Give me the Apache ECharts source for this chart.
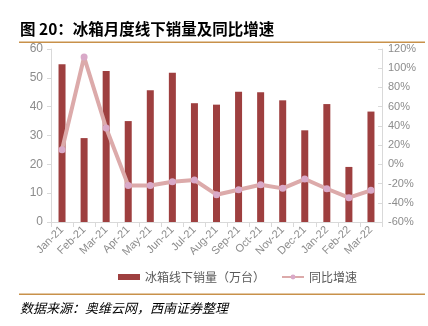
<!DOCTYPE html>
<html><head><meta charset="utf-8">
<script src="https://cdn.jsdelivr.net/npm/echarts@6/dist/echarts.min.js"></script>
<style>html,body{margin:0;padding:0;background:#fff;}#c{width:428px;height:326px;}</style>
</head><body><div id="c"></div>
<script>
const categories = ['Jan-21','Feb-21','Mar-21','Apr-21','May-21','Jun-21','Jul-21','Aug-21','Sep-21','Oct-21','Nov-21','Dec-21','Jan-22','Feb-22','Mar-22'];
const salesVolume = [54.7, 29.1, 52.4, 35.0, 45.7, 51.8, 41.2, 40.7, 45.2, 45.0, 42.2, 31.8, 40.9, 19.1, 38.3];
const yoyGrowth = [15.2, 111.6, 37.8, -21.9, -22.0, -18.1, -16.3, -31.6, -26.4, -21.2, -25.0, -15.3, -25.4, -34.7, -27.0];
const seriesNames = ['冰箱线下销量（万台）', '同比增速'];
const titleText = '图 20：冰箱月度线下销量及同比增速';
const sourceText = '数据来源：奥维云网，西南证券整理';

const chart = echarts.init(document.getElementById('c'));
const font = 'Liberation Sans, Arial, sans-serif';
const cjk = '"Noto Sans CJK SC", sans-serif';
chart.setOption({
  animation: false,
  backgroundColor: '#fff',
  graphic: [
    {type:'text', left: 20, top: 21, style:{text: titleText, font: 'bold 15.5px ' + cjk, fill:'#000'}},
    {type:'rect', shape:{x:19, y:41.5, width:406, height:1.5}, style:{fill:'#c8914a'}},
    {type:'rect', shape:{x:19, y:293.5, width:406, height:1.5}, style:{fill:'#c8914a'}},
    {type:'text', left: 20, top: 302, style:{text: sourceText, font: 'italic 13px ' + cjk, fill:'#000'}}
  ],
  legend: {
    bottom: 38, left: 113,
    itemGap: 16,
    textStyle: {color:'#595959', fontSize: 12, fontFamily: cjk},
    data: [
      {name: seriesNames[0], icon:'rect'},
      {name: seriesNames[1]}
    ],
    itemWidth: 22, itemHeight: 6
  },
  grid: {left: 51, right: 46, top: 49, bottom: 104},
  xAxis: {
    type: 'category', data: categories,
    axisLine: {lineStyle:{color:'#d9d9d9'}},
    axisTick: {show:true, alignWithLabel:false, lineStyle:{color:'#d9d9d9'}, length:5},
    axisLabel: {rotate: 45, color:'#8c8c8c', fontSize: 11, fontFamily: font, margin: 6, interval: 0}
  },
  yAxis: [
    {type:'value', min:0, max:60, interval:10, splitLine:{show:false},
     axisLine:{show:true, lineStyle:{color:'#d9d9d9'}}, axisTick:{show:true, lineStyle:{color:'#d9d9d9'}, length:4},
     axisLabel:{color:'#8c8c8c', fontSize:12, fontFamily: font, margin: 8}},
    {type:'value', min:-60, max:120, interval:20, splitLine:{show:false},
     axisLine:{show:true, lineStyle:{color:'#d9d9d9'}}, axisTick:{show:true, inside:true, lineStyle:{color:'#d9d9d9'}, length:4},
     axisLabel:{color:'#8c8c8c', fontSize:11, fontFamily: font, formatter:'{value}%', margin: 6}}
  ],
  series: [
    {name: seriesNames[0], type:'bar', data: salesVolume, barWidth: 7,
     itemStyle:{color:'#9e3f3f'}},
    {name: seriesNames[1], type:'line', yAxisIndex:1, data: yoyGrowth,
     symbol:'circle', symbolSize: 7,
     lineStyle:{color:'#dcaaaa', width:4},
     itemStyle:{color:'#d9a9c8'}}
  ]
});
</script></body></html>
